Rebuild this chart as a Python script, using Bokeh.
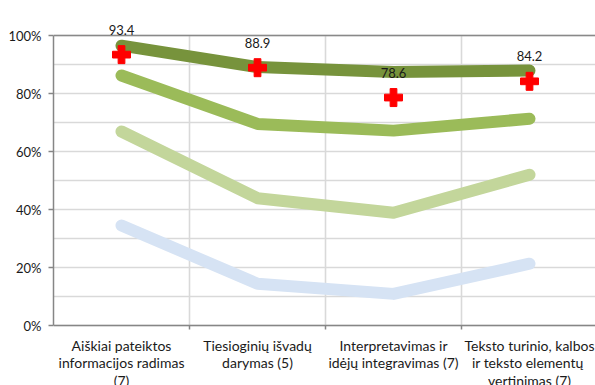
from bokeh.plotting import figure
from bokeh.models import Range1d, FixedTicker, PrintfTickFormatter, ColumnDataSource
from bokeh.core.properties import value
from bokeh.embed import file_html
from bokeh.resources import INLINE

# ---- data ----
categories = [
    "Aiškiai pateiktos\ninformacijos radimas\n(7)",
    "Tiesioginių išvadų\ndarymas (5)",
    "Interpretavimas ir\nidėjų integravimas (7)",
    "Teksto turinio, kalbos\nir  teksto elementų\nvertinimas (7)",
]
series_dark = [96.5, 89.1, 87.4, 87.9]
series_medium = [86.2, 69.5, 67.2, 71.3]
series_light = [66.9, 43.9, 38.9, 52.0]
series_blue = [34.5, 14.4, 10.9, 21.3]
result_values = [93.4, 88.9, 78.6, 84.2]
y_ticks = [0, 20, 40, 60, 80, 100]
y_grid = [0, 10, 20, 30, 40, 50, 60, 70, 80, 90, 100]

FONT = "Lato"
n = len(categories)
xs = [i + 0.5 for i in range(n)]
boundaries = list(range(1, n + 1))

px_per_unit = 2.9
# frame spans full figure height; 100% sits 35px below the top, 0% at 325px
y_end = 100 + 35 / px_per_unit
y_start = 100 - 350 / px_per_unit
x_end = 542 / 136

p = figure(width=595, height=385, output_backend="svg", toolbar_location=None,
           x_range=Range1d(0, x_end), y_range=Range1d(y_start, y_end),
           x_axis_location=None, min_border_left=53, min_border_right=0,
           min_border_top=0, min_border_bottom=0)
p.outline_line_color = None
p.background_fill_color = "white"

# grid
p.xgrid.visible = False
p.ygrid.ticker = FixedTicker(ticks=y_grid)
p.ygrid.grid_line_color = "#D9D9D9"
p.ygrid.grid_line_width = 1.6
p.segment(x0=boundaries[:-1], y0=[0] * (n - 1), x1=boundaries[:-1], y1=[100] * (n - 1),
          line_color="#D9D9D9", line_width=1.6)

# y axis
ax = p.yaxis[0]
ax.ticker = FixedTicker(ticks=y_ticks)
ax.formatter = PrintfTickFormatter(format="%d%%")
ax.bounds = (0, 100)
ax.axis_line_color = "#868686"
ax.axis_line_width = 1.5
ax.major_tick_line_color = "#868686"
ax.major_tick_line_width = 1.5
ax.major_tick_out = 5
ax.major_tick_in = 0
ax.minor_tick_line_color = None
ax.major_label_text_font = FONT
ax.major_label_text_font_size = "13px"
ax.major_label_text_color = "#1a1a1a"
ax.major_label_standoff = 7

# x axis line, top border, boundary ticks
p.segment(x0=[0], y0=[0], x1=[x_end], y1=[0], line_color="#868686", line_width=1.5)
p.segment(x0=[0], y0=[100], x1=[x_end], y1=[100], line_color="#898989", line_width=1.5)
p.segment(x0=boundaries, y0=[0] * n, x1=boundaries, y1=[-4 / px_per_unit] * n,
          line_color="#868686", line_width=1.5)

# series lines
for vals, col in [(series_blue, "#D6E3F4"), (series_light, "#C3D69B"),
                  (series_medium, "#9BBB59"), (series_dark, "#77933C")]:
    p.line(xs, vals, line_color=col, line_width=12, line_cap="round", line_join="round")

# result markers + labels
src = ColumnDataSource(dict(x=xs, y=result_values, t=[f"{v:.1f}" for v in result_values]))
p.scatter("x", "y", source=src, marker="plus", size=18, fill_color="#FF0000",
          line_color="#FF0000", line_width=1)
p.text("x", "y", text="t", source=src, text_align="center", text_baseline="middle",
       y_offset=-25, text_font=value(FONT), text_font_size="13px", text_color="#1a1a1a")

# category labels
p.text(xs, [0] * n, text=categories, text_align="center", text_baseline="top",
       y_offset=11, text_font=value(FONT), text_font_size="14px", text_color="#1a1a1a",
       text_line_height=1.05)

open("out.html", "w").write(file_html(p, INLINE))
